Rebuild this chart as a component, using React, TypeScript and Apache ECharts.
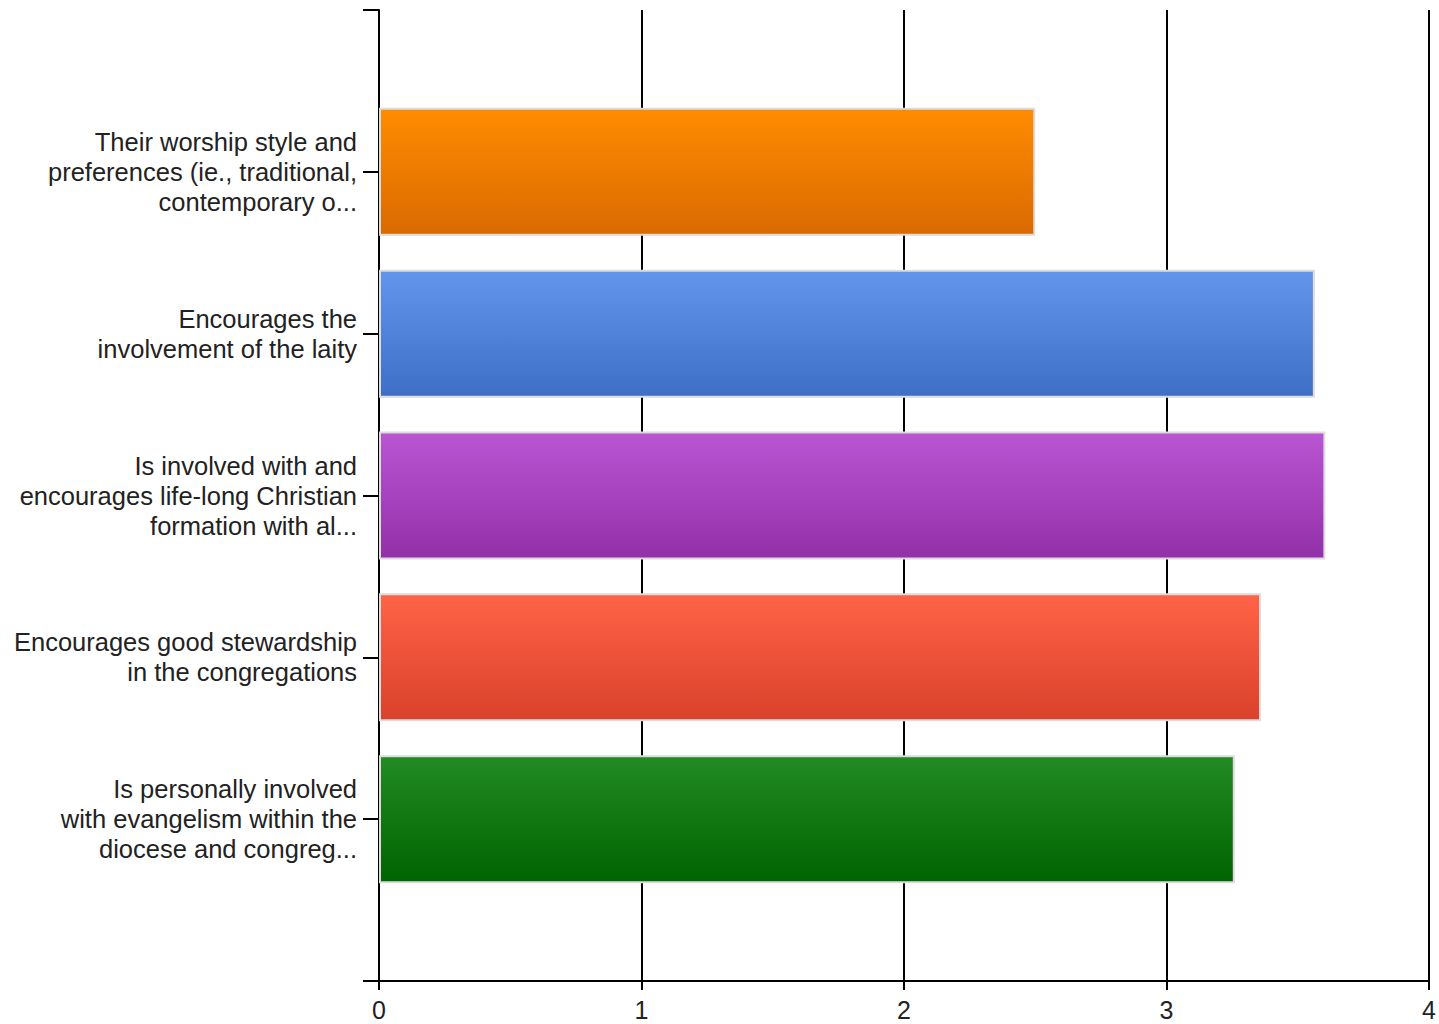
import React, { useEffect, useRef } from "react";
import * as echarts from "echarts";

const categories = [
  "",
  "Their worship style and\npreferences (ie., traditional,\ncontemporary o...",
  "Encourages the\ninvolvement of the laity",
  "Is involved with and\nencourages life-long Christian\nformation with al...",
  "Encourages good stewardship\nin the congregations",
  "Is personally involved\nwith evangelism within the\ndiocese and congreg...",
  "",
];
const values = [null, 2.5, 3.565, 3.605, 3.36, 3.26, null];
const topColors = ["", "#ff8c00", "#6495ed", "#ba55d3", "#ff6347", "#228b22", ""];
const bottomColors = ["", "#da6a00", "#3e6fc6", "#9230a8", "#d9412a", "#006400", ""];
const xTicks = { min: 0, max: 4, interval: 1 };

export default function App() {
  const ref = useRef<HTMLDivElement>(null);
  useEffect(() => {
    const chart = echarts.init(ref.current!, null, { renderer: "svg" });
    const font = "Liberation Sans";
    chart.setOption({
      animation: false,
      backgroundColor: "#ffffff",
      grid: { left: 379, right: 9, top: 10, bottom: 43, containLabel: false },
      xAxis: {
        type: "value",
        min: xTicks.min,
        max: xTicks.max,
        interval: xTicks.interval,
        axisLine: { show: true, lineStyle: { color: "#000", width: 2 } },
        axisTick: { show: true, length: 9, lineStyle: { color: "#000", width: 2 } },
        axisLabel: { color: "#222", fontFamily: font, fontSize: 25, margin: 16 },
        splitLine: { show: true, lineStyle: { color: "#000", width: 2 } },
      },
      yAxis: {
        type: "category",
        data: categories,
        inverse: true,
        boundaryGap: false,
        axisLine: { show: true, lineStyle: { color: "#000", width: 2 } },
        axisTick: { show: true, length: 16, interval: 0, lineStyle: { color: "#000", width: 2 } },
        axisLabel: {
          interval: 0,
          color: "#222",
          fontFamily: font,
          fontSize: 25.5,
          lineHeight: 30,
          align: "right",
          margin: 22,
        },
        splitLine: { show: false },
      },
      series: [
        {
          type: "bar",
          barWidth: 128,
          data: values.map((v, i) =>
            v == null
              ? "-"
              : {
                  value: v,
                  itemStyle: {
                    color: new echarts.graphic.LinearGradient(0, 0, 0, 1, [
                      { offset: 0, color: topColors[i] },
                      { offset: 1, color: bottomColors[i] },
                    ]),
                    borderColor: "#dcdcdc",
                    borderWidth: 2,
                  },
                }
          ),
        },
      ],
    });
    return () => chart.dispose();
  }, []);
  return (
    <div
      ref={ref}
      style={{ position: "fixed", left: 0, top: 0, width: 1439, height: 1024 }}
    />
  );
}
